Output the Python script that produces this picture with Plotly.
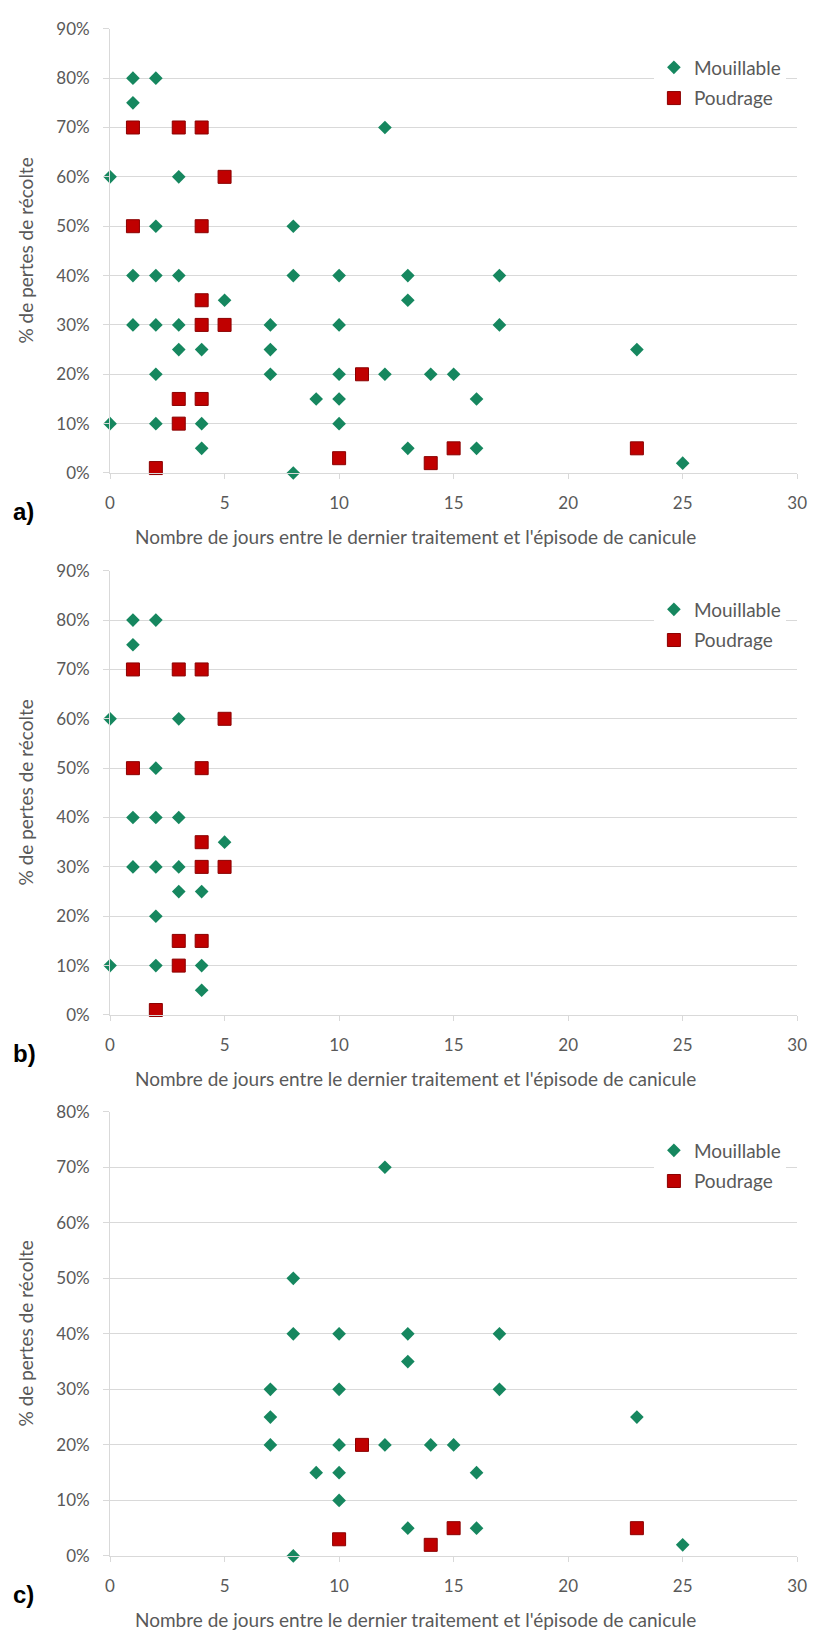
import plotly.graph_objects as go

# ---------------- data ----------------
# Panel a) all observations
a_mou_x = [1, 2, 1, 12, 0, 3, 2, 8, 1, 2, 3, 8, 10, 13, 17, 5, 13, 1, 2, 3, 7, 10, 17,
           3, 4, 7, 23, 2, 7, 10, 12, 14, 15, 9, 10, 16, 0, 2, 4, 10, 4, 13, 16, 8, 25]
a_mou_y = [80, 80, 75, 70, 60, 60, 50, 50, 40, 40, 40, 40, 40, 40, 40, 35, 35, 30, 30, 30, 30, 30, 30,
           25, 25, 25, 25, 20, 20, 20, 20, 20, 20, 15, 15, 15, 10, 10, 10, 10, 5, 5, 5, 0, 2]
a_pou_x = [1, 3, 4, 5, 1, 4, 4, 4, 5, 11, 3, 4, 3, 2, 10, 14, 15, 23]
a_pou_y = [70, 70, 70, 60, 50, 50, 35, 30, 30, 20, 15, 15, 10, 1, 3, 2, 5, 5]

# Panel b) short delays
b_mou_x = [1, 2, 1, 0, 3, 2, 1, 2, 3, 5, 1, 2, 3, 3, 4, 2, 0, 2, 4, 4]
b_mou_y = [80, 80, 75, 60, 60, 50, 40, 40, 40, 35, 30, 30, 30, 25, 25, 20, 10, 10, 10, 5]
b_pou_x = [1, 3, 4, 5, 1, 4, 4, 4, 5, 3, 4, 3, 2]
b_pou_y = [70, 70, 70, 60, 50, 50, 35, 30, 30, 15, 15, 10, 1]

# Panel c) long delays
c_mou_x = [12, 8, 8, 10, 13, 17, 13, 7, 10, 17, 7, 23, 7, 10, 12, 14, 15, 9, 10, 16, 10, 13, 16, 8, 25]
c_mou_y = [70, 50, 40, 40, 40, 40, 35, 30, 30, 30, 25, 25, 20, 20, 20, 20, 20, 15, 15, 15, 10, 5, 5, 0, 2]
c_pou_x = [11, 10, 14, 15, 23]
c_pou_y = [20, 3, 2, 5, 5]

panel_labels = ["a)", "b)", "c)"]
y_max = [90, 90, 80]
x_ticks = [0, 5, 10, 15, 20, 25, 30]
series_names = ["Mouillable", "Poudrage"]
x_title = "Nombre de jours entre le dernier traitement et l'épisode de canicule"
y_title = "% de pertes de récolte"

# ---------------- layout geometry (pixels) ----------------
W, H = 819, 1638
plot_left, plot_right = 107, 807
tops = [18, 567, 1115]
bottoms = [468, 1017, 1565]

GREEN = "#16875f"
RED = "#c00000"
GRID = "#d9d9d9"
TXT = "#595959"
FONT = "Lato, 'Open Sans', sans-serif"


def fx(p):
    return p / W


def fy(p):
    return 1 - p / H


panels = [
    (a_mou_x, a_mou_y, a_pou_x, a_pou_y),
    (b_mou_x, b_mou_y, b_pou_x, b_pou_y),
    (c_mou_x, c_mou_y, c_pou_x, c_pou_y),
]

fig = go.Figure()
layout = dict(
    width=W, height=H,
    margin=dict(l=0, r=0, t=0, b=0),
    paper_bgcolor="white", plot_bgcolor="white",
    font=dict(family=FONT, color=TXT, size=17),
    showlegend=True,
)
annotations = []

for i, (mx, my, px_, py_) in enumerate(panels):
    n = "" if i == 0 else str(i + 1)
    leg = "legend" if i == 0 else f"legend{i + 1}"
    fig.add_trace(go.Scatter(
        x=mx, y=my, mode="markers", name=series_names[0],
        xaxis="x" + n, yaxis="y" + n, legend=leg, legendgroup=f"m{i}",
        marker=dict(symbol="diamond", size=10.5, color=GREEN, line=dict(width=0)),
        cliponaxis=False,
    ))
    fig.add_trace(go.Scatter(
        x=px_, y=py_, mode="markers", name=series_names[1],
        xaxis="x" + n, yaxis="y" + n, legend=leg, legendgroup=f"p{i}",
        marker=dict(symbol="square", size=13, color=RED, line=dict(width=1, color="#8a0000")),
        cliponaxis=False,
    ))

    top, bot = tops[i], bottoms[i]
    layout["xaxis" + n] = dict(
        domain=[fx(plot_left), fx(plot_right)],
        anchor="y" + n,
        range=[0, 30], tickvals=x_ticks, ticktext=[str(v) for v in x_ticks],
        showgrid=False, zeroline=False,
        showline=True, linecolor=GRID, linewidth=1,
        ticks="outside", ticklen=5, tickcolor=GRID,
        ticklabelstandoff=10,
        tickfont=dict(size=17, color=TXT, family=FONT),
    )
    yt = list(range(0, y_max[i] + 1, 10))
    layout["yaxis" + n] = dict(
        domain=[fy(bot), fy(top)],
        anchor="x" + n,
        range=[0, y_max[i]], tickvals=yt, ticktext=[f"{v}%" for v in yt],
        showgrid=True, gridcolor=GRID, gridwidth=1,
        zeroline=False,
        showline=True, linecolor=GRID, linewidth=1,
        ticks="outside", ticklen=6, tickcolor=GRID,
        ticklabelstandoff=10,
        tickfont=dict(size=17, color=TXT, family=FONT),
    )
    layout[leg] = dict(
        x=fx(661), y=fy(top + 20), xanchor="left", yanchor="top",
        bgcolor="white", borderwidth=0,
        font=dict(size=19, color=TXT, family=FONT),
        tracegroupgap=3, itemsizing="trace",
    )
    # x-axis title
    annotations.append(dict(
        text=x_title, x=fx(418), y=fy(bot + 64), xref="paper", yref="paper",
        xanchor="center", yanchor="middle", showarrow=False,
        font=dict(size=19, color=TXT, family=FONT),
    ))
    # y-axis title
    annotations.append(dict(
        text=y_title, x=fx(21), y=fy((top + bot) / 2), xref="paper", yref="paper",
        xanchor="center", yanchor="middle", showarrow=False, textangle=-90,
        font=dict(size=19, color=TXT, family=FONT),
    ))
    # panel label
    annotations.append(dict(
        text=f"<b>{panel_labels[i]}</b>", x=fx(6), y=fy(bot + 39), xref="paper", yref="paper",
        xanchor="left", yanchor="middle", showarrow=False,
        font=dict(size=24, color="black", family="'Liberation Sans Narrow', 'Liberation Sans', Arial"),
    ))

layout["annotations"] = annotations
fig.update_layout(**layout)
fig.write_html("out.html")
